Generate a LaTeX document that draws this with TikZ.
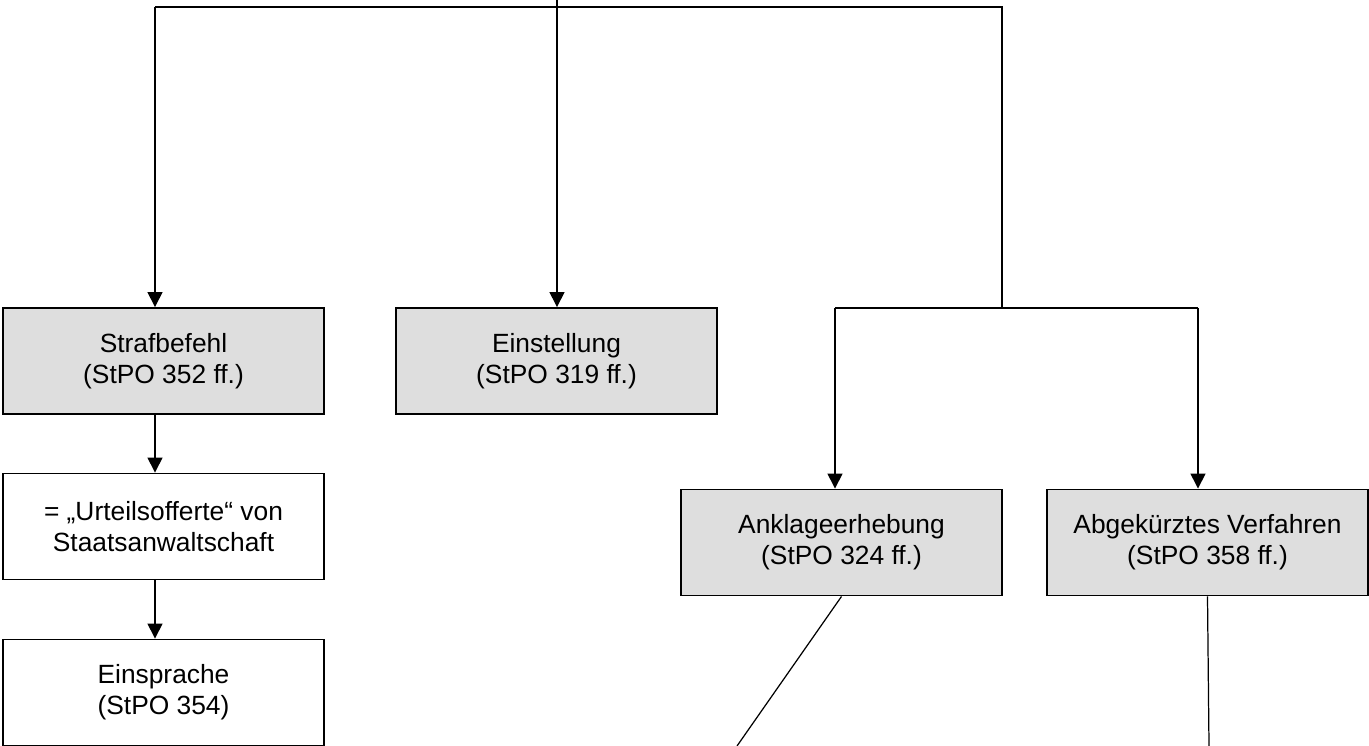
\documentclass[tikz,border=0pt]{standalone}
\usepackage{fontspec}
\setmainfont{Liberation Sans}
\usetikzlibrary{calc, arrows.meta}
\usepackage{xcolor}
\definecolor{boxgray}{HTML}{DEDEDE}

\begin{document}
\begin{tikzpicture}[x=0.02cm, y=-0.02cm,
	box/.style={draw, line width=1.1pt, minimum width=6.42cm, minimum height=2.12cm,
			inner sep=0pt, align=center, font=\fontsize{15}{17.6}\selectfont},
	greybox/.style={box, fill=boxgray},
	link/.style={line width=0.85pt, -{Triangle[width=8.5pt, length=8.5pt]}},
	wire/.style={line width=0.7pt}]
	\useasboundingbox (0, 0) rectangle (1369, 746);

	% boxes
	\node[greybox] (strafbefehl) at (163.5, 361) {Strafbefehl\\(StPO 352 ff.)};
	\node[greybox] (einstellung) at (556.5, 361) {Einstellung\\(StPO 319 ff.)};
	\node[box] (offerte) at (163.5, 526.5) {= „Urteilsofferte“ von\\Staatsanwaltschaft};
	\node[box] (einsprache) at (163.5, 692.5) {Einsprache\\(StPO 354)};
	\node[greybox] (anklage) at (841.5, 542.5) {Anklageerhebung\\(StPO 324 ff.)};
	\node[greybox] (abgekuerzt) at (1207.5, 542.5) {Abgekürztes Verfahren\\(StPO 358 ff.)};

	% branching lines
	\coordinate (top) at (557, 0);
	\coordinate (lane) at (155, 0);
	\coordinate (bl) at (155, 7);
	\coordinate (br) at (1002, 7);
	\coordinate (fork) at (1002, 308);
	\coordinate (forkl) at (835, 308);
	\coordinate (forkr) at (1198, 308);
	\coordinate (offl) at (737, 746);
	\coordinate (offr) at (1209, 746);

	\draw[wire] (bl) -- (br) -- (fork);
	\draw[wire] (forkl) -- (forkr);
	\draw[link] (top) -- (einstellung.north -| top);
	\draw[link] (bl) -- (strafbefehl.north -| bl);
	\draw[link] (forkl) -- (anklage.north -| forkl);
	\draw[link] (forkr) -- (abgekuerzt.north -| forkr);

	\draw[link] (strafbefehl.south -| lane) -- (offerte.north -| lane);
	\draw[link] (offerte.south -| lane) -- (einsprache.north -| lane);

	\draw[wire] (anklage.south) -- (offl);
	\draw[wire] (abgekuerzt.south) -- (offr);
\end{tikzpicture}
\end{document}
